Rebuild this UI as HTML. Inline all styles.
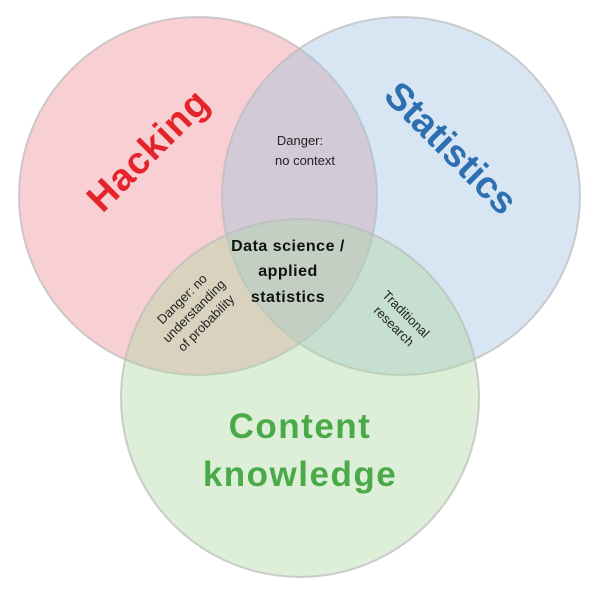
<!DOCTYPE html>
<html><head><style>
body{margin:0;background:#fff;}
svg text{font-family:"Liberation Sans",sans-serif;}
</style></head><body>
<svg width="600" height="600" viewBox="0 0 600 600" xmlns="http://www.w3.org/2000/svg">
<circle cx="198" cy="196" r="179" fill="rgb(238,140,148)" fill-opacity="0.42" stroke="#bbb" stroke-opacity="0.7" stroke-width="2"/>
<circle cx="401" cy="196" r="179" fill="rgb(160,195,225)" fill-opacity="0.42" stroke="#bbb" stroke-opacity="0.7" stroke-width="2"/>
<circle cx="300" cy="398" r="179" fill="rgb(175,215,165)" fill-opacity="0.42" stroke="#bbb" stroke-opacity="0.7" stroke-width="2"/>
<text x="0" y="0" transform="translate(150,152) rotate(-45)" text-anchor="middle" dominant-baseline="middle" font-size="38" font-weight="bold" fill="#e3242b" letter-spacing="1">Hacking</text>
<text x="0" y="0" transform="translate(449,150) rotate(45)" text-anchor="middle" dominant-baseline="middle" font-size="38" font-weight="bold" fill="#2e6fb0">Statistics</text>
<text x="300" y="438" text-anchor="middle" font-size="35" font-weight="bold" fill="#4aaa48" letter-spacing="1.5">Content</text>
<text x="300" y="486" text-anchor="middle" font-size="35" font-weight="bold" fill="#4aaa48" letter-spacing="1.5">knowledge</text>
<g font-size="16" font-weight="bold" fill="#111" text-anchor="middle" letter-spacing="0.5">
<text x="288" y="251">Data science /</text>
<text x="288" y="276">applied</text>
<text x="288" y="302">statistics</text>
</g>
<g font-size="13" fill="#222" text-anchor="middle">
<text x="300" y="145">Danger:</text>
<text x="305" y="165">no context</text>
</g>
<g font-size="13" fill="#222" text-anchor="middle" transform="translate(195,312) rotate(-45)">
<text x="0" y="-14">Danger: no</text>
<text x="0" y="3">understanding</text>
<text x="0" y="20">of probability</text>
</g>
<g font-size="13" fill="#222" text-anchor="middle" transform="translate(400,320) rotate(45)">
<text x="0" y="-4">Traditional</text>
<text x="0" y="13">research</text>
</g>
</svg>
</body></html>
